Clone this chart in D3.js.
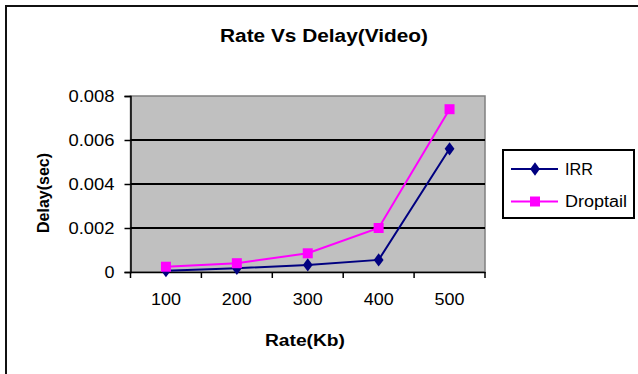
<!DOCTYPE html>
<html lang="en">
<head>
    <title>Rate Vs Delay(Video)</title>
    <style>
        body { margin: 0; padding: 0; background: #fff; }
        svg { display: block; font-family: "Liberation Sans", Arial, sans-serif; }
    </style>
    <script src="https://d3js.org/d3.v7.min.js"></script>
</head>
<body>
    <div id="chart"></div>
    <script>
        // data
        const rates = ['100', '200', '300', '400', '500'];
        const irrDelay = [0.00006, 0.00017, 0.00032, 0.00055, 0.0056];
        const droptailDelay = [0.00024, 0.0004, 0.00085, 0.002, 0.0074];
        const yTicks = [0, 0.002, 0.004, 0.006, 0.008];
        const seriesNames = ['IRR', 'Droptail'];

        const width = 638, height = 374;
        const plot = {left: 130.5, right: 485, top: 96, bottom: 272};

        const svg = d3.select('#chart').append('svg')
            .attr('width', width)
            .attr('height', height);

        svg.append('rect').attr('width', width).attr('height', height).attr('fill', '#fff');

        // outer chart frame (runs off the right / bottom edge)
        svg.append('path')
            .attr('d', `M6,${height + 5} V6 H${width + 5}`)
            .attr('fill', 'none')
            .attr('stroke', '#111')
            .attr('stroke-width', 2);

        const x = d3.scaleBand().domain(rates).range([plot.left, plot.right]);
        const y = d3.scaleLinear().domain([0, 0.008]).range([plot.bottom, plot.top]);

        // plot area
        svg.append('rect')
            .attr('x', plot.left).attr('y', plot.top)
            .attr('width', plot.right - plot.left)
            .attr('height', plot.bottom - plot.top)
            .attr('fill', '#c0c0c0')
            .attr('stroke', '#808080')
            .attr('stroke-width', 1.5);

        // gridlines
        svg.selectAll('.grid')
            .data(yTicks.slice(1, -1))
            .enter().append('line')
            .attr('x1', plot.left).attr('x2', plot.right)
            .attr('y1', d => y(d)).attr('y2', d => y(d))
            .attr('stroke', '#000')
            .attr('stroke-width', 2);

        // y axis
        const yAxis = svg.append('g')
            .attr('transform', `translate(${plot.left},0)`)
            .call(d3.axisLeft(y).tickValues(yTicks).tickSize(6).tickPadding(10)
                .tickFormat(d => d === 0 ? '0' : d3.format('.3f')(d)));
        yAxis.select('.domain').attr('stroke', '#000').attr('stroke-width', 1.5);
        yAxis.selectAll('.tick line').attr('stroke', '#000').attr('stroke-width', 1.5);
        yAxis.selectAll('.tick text')
            .attr('fill', '#000')
            .style('font-size', '16px')
            .attr('textLength', d => d === 0 ? 10 : 46)
            .attr('lengthAdjust', 'spacingAndGlyphs');

        // x axis: ticks at category boundaries
        const xAxis = svg.append('g')
            .attr('transform', `translate(0,${plot.bottom})`)
            .call(d3.axisBottom(x).tickSize(0).tickPadding(22));
        xAxis.select('.domain').attr('stroke', '#000').attr('stroke-width', 1.5);
        xAxis.selectAll('.tick text')
            .attr('fill', '#000')
            .style('font-size', '16px')
            .attr('textLength', 30)
            .attr('lengthAdjust', 'spacingAndGlyphs');
        const bounds = rates.map(r => x(r)).concat([x(rates[rates.length - 1]) + x.bandwidth()]);
        xAxis.selectAll('.bound')
            .data(bounds)
            .enter().append('line')
            .attr('x1', d => d).attr('x2', d => d)
            .attr('y1', 0).attr('y2', 6)
            .attr('stroke', '#000')
            .attr('stroke-width', 1.5);

        // lines + markers
        const cx = r => x(r) + x.bandwidth() / 2;
        const line = d3.line().x((d, i) => cx(rates[i])).y(d => y(d));

        svg.append('path').datum(droptailDelay)
            .attr('d', line).attr('fill', 'none')
            .attr('stroke', '#ff00ff').attr('stroke-width', 2);
        svg.append('path').datum(irrDelay)
            .attr('d', line).attr('fill', 'none')
            .attr('stroke', '#000080').attr('stroke-width', 2);

        const diamond = d3.symbol().type(d3.symbolDiamond2).size(85);
        const square = d3.symbol().type(d3.symbolSquare).size(100);

        svg.selectAll('.irr')
            .data(irrDelay)
            .enter().append('path')
            .attr('d', diamond)
            .attr('transform', (d, i) => `translate(${cx(rates[i])},${y(d)}) scale(0.85,1.15)`)
            .attr('fill', '#000080');
        svg.selectAll('.drop')
            .data(droptailDelay)
            .enter().append('path')
            .attr('d', square)
            .attr('transform', (d, i) => `translate(${cx(rates[i])},${y(d)})`)
            .attr('fill', '#ff00ff');

        // titles
        svg.append('text')
            .attr('x', 324).attr('y', 42)
            .attr('text-anchor', 'middle')
            .style('font-size', '18px').style('font-weight', 'bold')
            .attr('textLength', 208).attr('lengthAdjust', 'spacingAndGlyphs')
            .text('Rate Vs Delay(Video)');

        svg.append('text')
            .attr('x', 305).attr('y', 346)
            .attr('text-anchor', 'middle')
            .style('font-size', '16px').style('font-weight', 'bold')
            .attr('textLength', 80).attr('lengthAdjust', 'spacingAndGlyphs')
            .text('Rate(Kb)');

        svg.append('text')
            .attr('transform', 'translate(49,193) rotate(-90)')
            .attr('text-anchor', 'middle')
            .style('font-size', '16px').style('font-weight', 'bold')
            .text('Delay(sec)');

        // legend
        const legend = svg.append('g').attr('transform', 'translate(503,150)');
        legend.append('rect')
            .attr('width', 131).attr('height', 68)
            .attr('fill', '#fff')
            .attr('stroke', '#000').attr('stroke-width', 2);

        const legendRows = [
            {name: seriesNames[0], color: '#000080', sym: diamond, tf: 'scale(0.85,1.15)', y: 19, w: 28},
            {name: seriesNames[1], color: '#ff00ff', sym: square, tf: '', y: 51.5, w: 62}
        ];
        const row = legend.selectAll('.row')
            .data(legendRows)
            .enter().append('g')
            .attr('transform', d => `translate(0,${d.y})`);
        row.append('line')
            .attr('x1', 8).attr('x2', 55)
            .attr('stroke', d => d.color).attr('stroke-width', 2);
        row.append('path')
            .attr('d', d => d.sym())
            .attr('transform', d => `translate(32,0) ${d.tf}`)
            .attr('fill', d => d.color);
        row.append('text')
            .attr('x', 62).attr('dy', '0.36em')
            .style('font-size', '16px')
            .attr('textLength', d => d.w)
            .attr('lengthAdjust', 'spacingAndGlyphs')
            .text(d => d.name);
    </script>
</body>
</html>
